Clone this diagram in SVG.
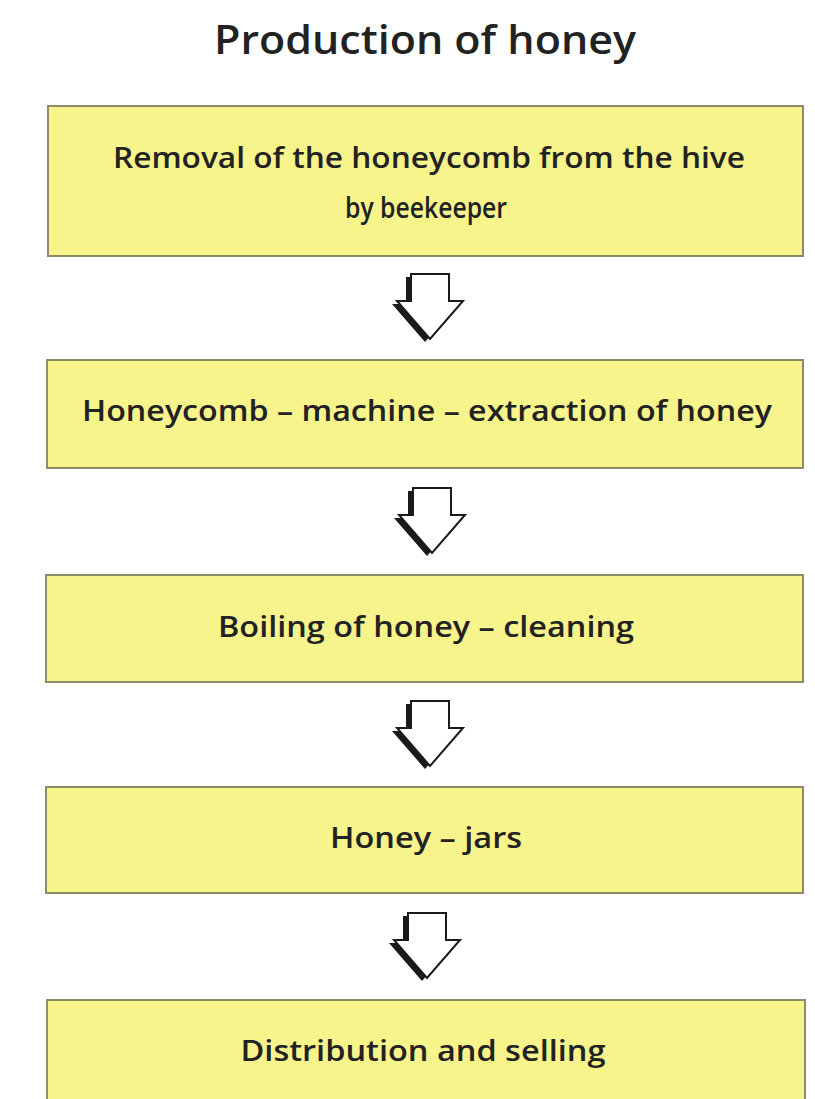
<svg xmlns="http://www.w3.org/2000/svg" width="815" height="1099" viewBox="0 0 815 1099">
<style>
.box{fill:#f6f48a;stroke:#8e8c66;stroke-width:2}
.t{font-family:"Open Sans","Liberation Sans",sans-serif;font-weight:600;font-size:28px;fill:#222;text-anchor:middle}
.title{font-family:"Open Sans","Liberation Sans",sans-serif;font-weight:600;font-size:39px;fill:#222;text-anchor:middle}
.ash{fill:#1a1a1a}
.aw{fill:#fff;stroke:#1a1a1a;stroke-width:2;stroke-linejoin:miter}
</style>
<defs>
<polygon id="arr" points="-19,0 19,0 19,27 33,27 0,65 -33,27 -19,27"/>
</defs>
<rect width="815" height="1099" fill="#fff"/>
<text class="title" x="425" y="54" textLength="422" lengthAdjust="spacingAndGlyphs">Production of honey</text>
<g id="n1">
<rect class="box" x="48" y="106" width="755" height="150"/>
<text class="t" x="429" y="168" textLength="632" lengthAdjust="spacingAndGlyphs">Removal of the honeycomb from the hive</text>
<text class="t" x="426" y="218" textLength="162" lengthAdjust="spacingAndGlyphs">by beekeeper</text>
</g>
<g id="n2">
<rect class="box" x="47" y="360" width="756" height="108"/>
<text class="t" x="427" y="421" textLength="690" lengthAdjust="spacingAndGlyphs">Honeycomb – machine – extraction of honey</text>
</g>
<g id="n3">
<rect class="box" x="46" y="575" width="757" height="107"/>
<text class="t" x="426" y="637" textLength="416" lengthAdjust="spacingAndGlyphs">Boiling of honey – cleaning</text>
</g>
<g id="n4">
<rect class="box" x="46" y="787" width="757" height="106"/>
<text class="t" x="426" y="848" textLength="192" lengthAdjust="spacingAndGlyphs">Honey – jars</text>
</g>
<g id="n5">
<rect class="box" x="47" y="1000" width="758" height="110"/>
<text class="t" x="423" y="1061" textLength="365" lengthAdjust="spacingAndGlyphs">Distribution and selling</text>
</g>
<g id="connectors">
<g transform="translate(430,274)"><use href="#arr" class="ash" x="-5" y="3"/><use href="#arr" class="aw"/></g>
<g transform="translate(432,488)"><use href="#arr" class="ash" x="-5" y="3"/><use href="#arr" class="aw"/></g>
<g transform="translate(430,701)"><use href="#arr" class="ash" x="-5" y="3"/><use href="#arr" class="aw"/></g>
<g transform="translate(427,913)"><use href="#arr" class="ash" x="-5" y="3"/><use href="#arr" class="aw"/></g>
</g>
</svg>
